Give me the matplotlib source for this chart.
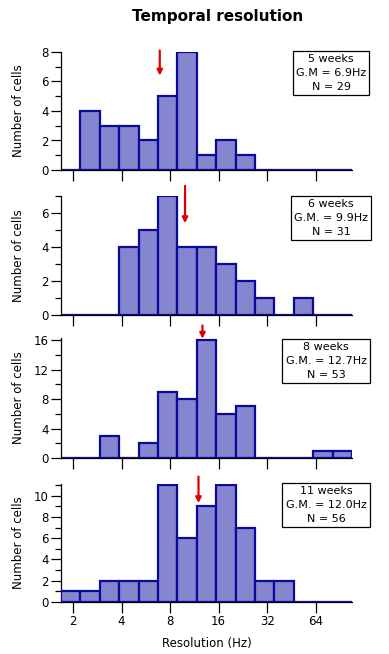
import numpy as np
import matplotlib
matplotlib.use("Agg")
import matplotlib.pyplot as plt
from matplotlib.ticker import MultipleLocator, FixedLocator

# histogram bins: 15 bins of 0.4 octave starting at ~1.68 Hz
n_bins = 15
lo_log2 = 0.75
bin_w = 0.4

counts_5wk = [0, 4, 3, 3, 2, 5, 8, 1, 2, 1, 0, 0, 0, 0, 0]
counts_6wk = [0, 0, 0, 4, 5, 7, 4, 4, 3, 2, 1, 0, 1, 0, 0]
counts_8wk = [0, 0, 3, 0, 2, 9, 8, 16, 6, 7, 0, 0, 0, 1, 1]
counts_11wk = [1, 1, 2, 2, 2, 11, 6, 9, 11, 7, 2, 2, 0, 0, 0]

labels = ["5 weeks\nG.M = 6.9Hz\nN = 29",
          "6 weeks\nG.M. = 9.9Hz\nN = 31",
          "8 weeks\nG.M. = 12.7Hz\nN = 53",
          "11 weeks\nG.M. = 12.0Hz\nN = 56"]
gm = [6.9, 9.9, 12.7, 12.0]
arrow_y = [(8.1, 6.4), (7.6, 5.4), (18.0, 16.2), (11.8, 9.3)]
ylims = [8, 7, 16.3, 11.1]
ymajor = [2, 2, 4, 2]
xticks = [2, 4, 8, 16, 32, 64]

all_counts = [counts_5wk, counts_6wk, counts_8wk, counts_11wk]

fig = plt.figure(figsize=(3.89, 6.54), dpi=100)
W, H = 389, 654
# axes boxes in pixels: (top, bottom)
boxes = [(52, 170), (196, 315), (338, 458), (484, 602)]
# label box centres (pixels)
lab_pos = [(331, 73), (331, 218), (326, 361), (326, 505)]

edges = lo_log2 + bin_w * np.arange(n_bins + 1)

for i, counts in enumerate(all_counts):
    top, bot = boxes[i]
    ax = fig.add_axes([61 / W, 1 - bot / H, (352 - 61) / W, (bot - top) / H])
    ax.bar(edges[:-1], counts, width=bin_w, align='edge',
           facecolor='#8585d0', edgecolor='#0a0a9a', linewidth=1.6, zorder=3)
    ax.plot([edges[0], edges[-1]], [0, 0], color='#0a0a9a', lw=2.2, zorder=4,
            solid_capstyle='butt')
    ax.set_xlim(edges[0], edges[-1])
    ax.set_ylim(0, ylims[i])
    for s in ['top', 'right']:
        ax.spines[s].set_visible(False)
    ax.spines['left'].set_linewidth(0.9)
    ax.spines['bottom'].set_linewidth(0.9)
    ax.xaxis.set_major_locator(FixedLocator(np.log2(xticks)))
    if i == 3:
        ax.set_xticklabels([str(t) for t in xticks])
        ax.set_xlabel("Resolution (Hz)", fontsize=8.5, labelpad=6)
    else:
        ax.set_xticklabels([])
    ax.yaxis.set_major_locator(MultipleLocator(ymajor[i]))
    ax.yaxis.set_minor_locator(MultipleLocator(ymajor[i] / 2))
    ax.tick_params(axis='x', direction='out', length=8, width=0.9, labelsize=8.5, pad=1.5)
    ax.tick_params(axis='y', which='major', direction='out', length=7, width=0.9, labelsize=8.5, pad=2)
    ax.tick_params(axis='y', which='minor', direction='out', length=4, width=0.9)
    ax.set_ylabel("Number of cells", fontsize=8.5, labelpad=4)
    ax.yaxis.set_label_coords(-0.125, 0.5)
    ya, yb = arrow_y[i]
    ax.annotate("", xy=(np.log2(gm[i]), yb), xytext=(np.log2(gm[i]), ya),
                arrowprops=dict(arrowstyle='-|>', color='#e00000', lw=1.6,
                                mutation_scale=8, shrinkA=0, shrinkB=0),
                annotation_clip=False, zorder=6)
    cx, cy = lab_pos[i]
    fig.text(cx / W, 1 - cy / H, labels[i], ha='center', va='center',
             fontsize=8, linespacing=1.45,
             bbox=dict(boxstyle='square,pad=0.3', facecolor='white',
                       edgecolor='black', linewidth=0.9))

fig.text(218 / W, 1 - 17 / H, "Temporal resolution", ha='center', va='center',
         fontsize=11, fontweight='bold')

fig.savefig("out.png", dpi=100)
